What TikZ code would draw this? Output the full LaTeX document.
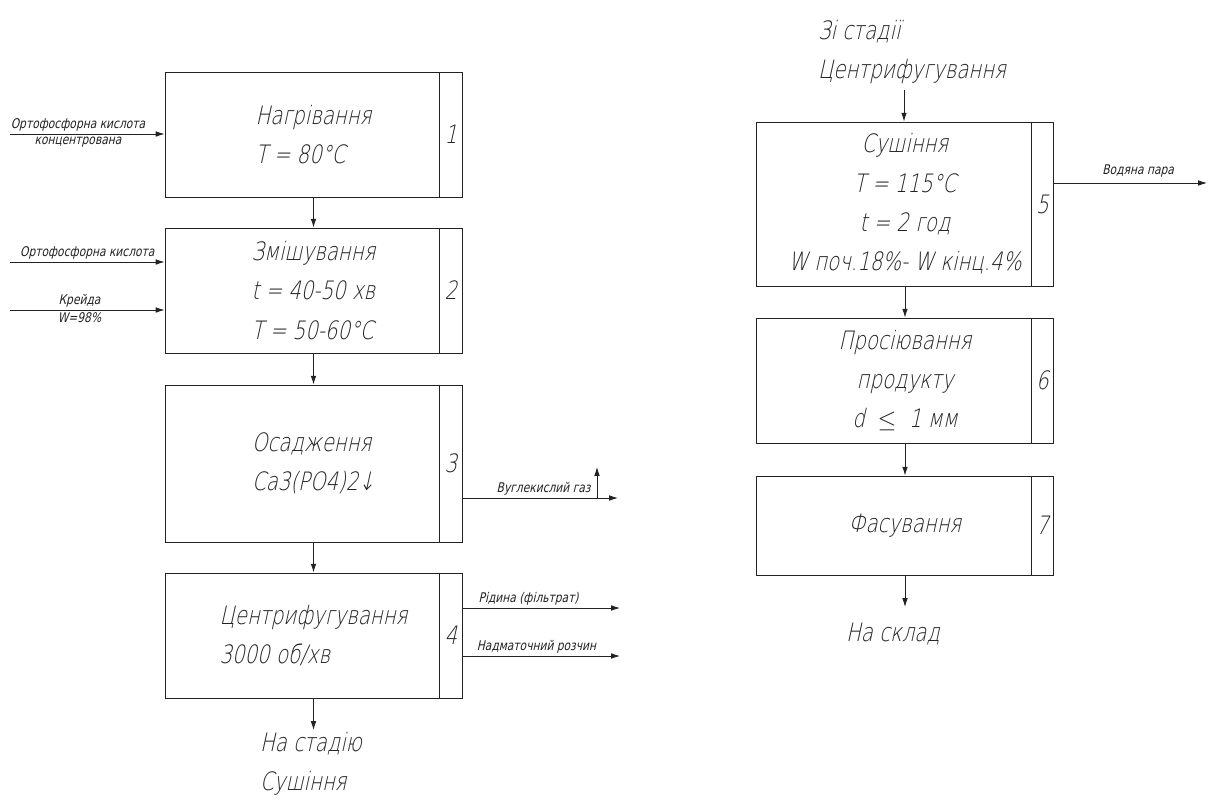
\documentclass[tikz,border=0pt]{standalone}
\usepackage{fontspec}
\usepackage{tikz}
\usetikzlibrary{arrows.meta}
\newfontfamily\gost[FakeSlant=0.22,FakeStretch=0.78]{DejaVu Sans ExtraLight}
\newfontfamily\gostsmall[FakeSlant=0.22,FakeStretch=0.8]{DejaVu Sans}
\definecolor{ink}{HTML}{222222}
\tikzset{
  every node/.style={text=ink,inner sep=0pt},
  stage/.style={draw=ink,line width=.6pt,minimum width=7.425cm,minimum height=3.125cm,
    font=\gost\fontsize{18}{28}\selectfont},
  num/.style={font=\gost\fontsize{18}{20}\selectfont},
  big/.style={font=\gost\fontsize{18}{28}\selectfont},
  note/.style={font=\gostsmall\fontsize{9.5}{11.5}\selectfont,inner sep=1.5pt},
  flow/.style={-{Latex[length=2.2mm,width=1.4mm]},line width=.6pt,draw=ink},
}
\begin{document}
\begin{tikzpicture}[x=.025cm,y=-.025cm]
\path[use as bounding box] (0,0) rectangle (1208,801);
% left column: stages 1-4
\node[stage,align=left] (b1) at (313.5,134.5) {Нагрівання\\T = 80°C};
\node[stage,align=left] (b2) at (313.5,290.5) {Змішування\\t = 40-50 хв\\T = 50-60°C};
\node[stage,align=left,minimum height=3.925cm] (b3) at (313.5,463.5) {Осадження\\Ca3(PO4)2↓};
\node[stage,align=left] (b4) at (313.5,635.5) {Центрифугування\\3000 об/хв};
% right column: stages 5-7
\node[stage,align=center,minimum height=4.1cm] (b5) at (905,204) {Сушіння\\T = 115°C\\t = 2 год\\W поч.18\%- W кінц.4\%};
\node[stage,align=center] (b6) at (905,380.5) {Просіювання\\продукту\\d\enspace$\leq$\enspace1 мм};
\node[stage,minimum height=2.475cm] (b7) at (905,525.5) {Фасування};
% number cells
\foreach \b/\n in {b1/1,b2/2,b3/3,b4/4,b5/5,b6/6,b7/7}{
  \draw[ink,line width=.6pt] ([xshift=-.575cm]\b.north east) -- ([xshift=-.575cm]\b.south east);
  \node[num] (n\n) at ([xshift=-.2875cm]\b.east) {\n};
}
% main flow
\draw[flow] (b1) -- (b2);
\draw[flow] (b2) -- (b3);
\draw[flow] (b3) -- (b4);
\draw[flow] (b5) -- (b6);
\draw[flow] (b6) -- (b7);
% inputs
\coordinate (in1) at (10,134);
\coordinate (in2) at (10,262);
\coordinate (in3) at (10,310);
\draw[flow] (in1) -- (in1 -| b1.west)
  node[note,pos=.44,above] {Ортофосфорна кислота}
  node[note,pos=.44,below] {концентрована};
\draw[flow] (in2) -- (in2 -| b2.west)
  node[note,pos=.5,above] {Ортофосфорна кислота};
\draw[flow] (in3) -- (in3 -| b2.west)
  node[note,pos=.45,above] {Крейда}
  node[note,pos=.45,below] {W=98\%};
% outputs
\coordinate (out3) at (618,498);
\coordinate (gas) at (597,467);
\coordinate (out4a) at (620,608);
\coordinate (out4b) at (620,656);
\coordinate (out5) at (1207,183);
\draw[flow] (out3 -| b3.east) -- (out3);
\node[note,anchor=south east] (co2) at ([xshift=-.1cm]gas |- out3) {Вуглекислий газ};
\draw[flow] (gas |- out3) -- (gas);
\draw[flow] (out4a -| b4.east) -- (out4a)
  node[note,pos=.42,above] {Рідина (фільтрат)};
\draw[flow] (out4b -| b4.east) -- (out4b)
  node[note,pos=.47,above] {Надматочний розчин};
\draw[flow] (out5 -| b5.east) -- (out5)
  node[note,pos=.55,above=2pt] {Водяна пара};
% transfer between columns
\node[big,align=left] (from) at (912,52) {Зі стадії\\Центрифугування};
\coordinate (top5) at (904,90);
\draw[flow] (top5) -- (top5 |- b5.north);
\node[big,align=left] (to4) at (311,764) {На стадію\\Сушіння};
\coordinate (end4) at (313.5,730);
\draw[flow] (b4.south) -- (end4);
\node[big] (store) at (893,634) {На склад};
\coordinate (end7) at (905,607);
\draw[flow] (b7.south) -- (end7);
\end{tikzpicture}
\end{document}
